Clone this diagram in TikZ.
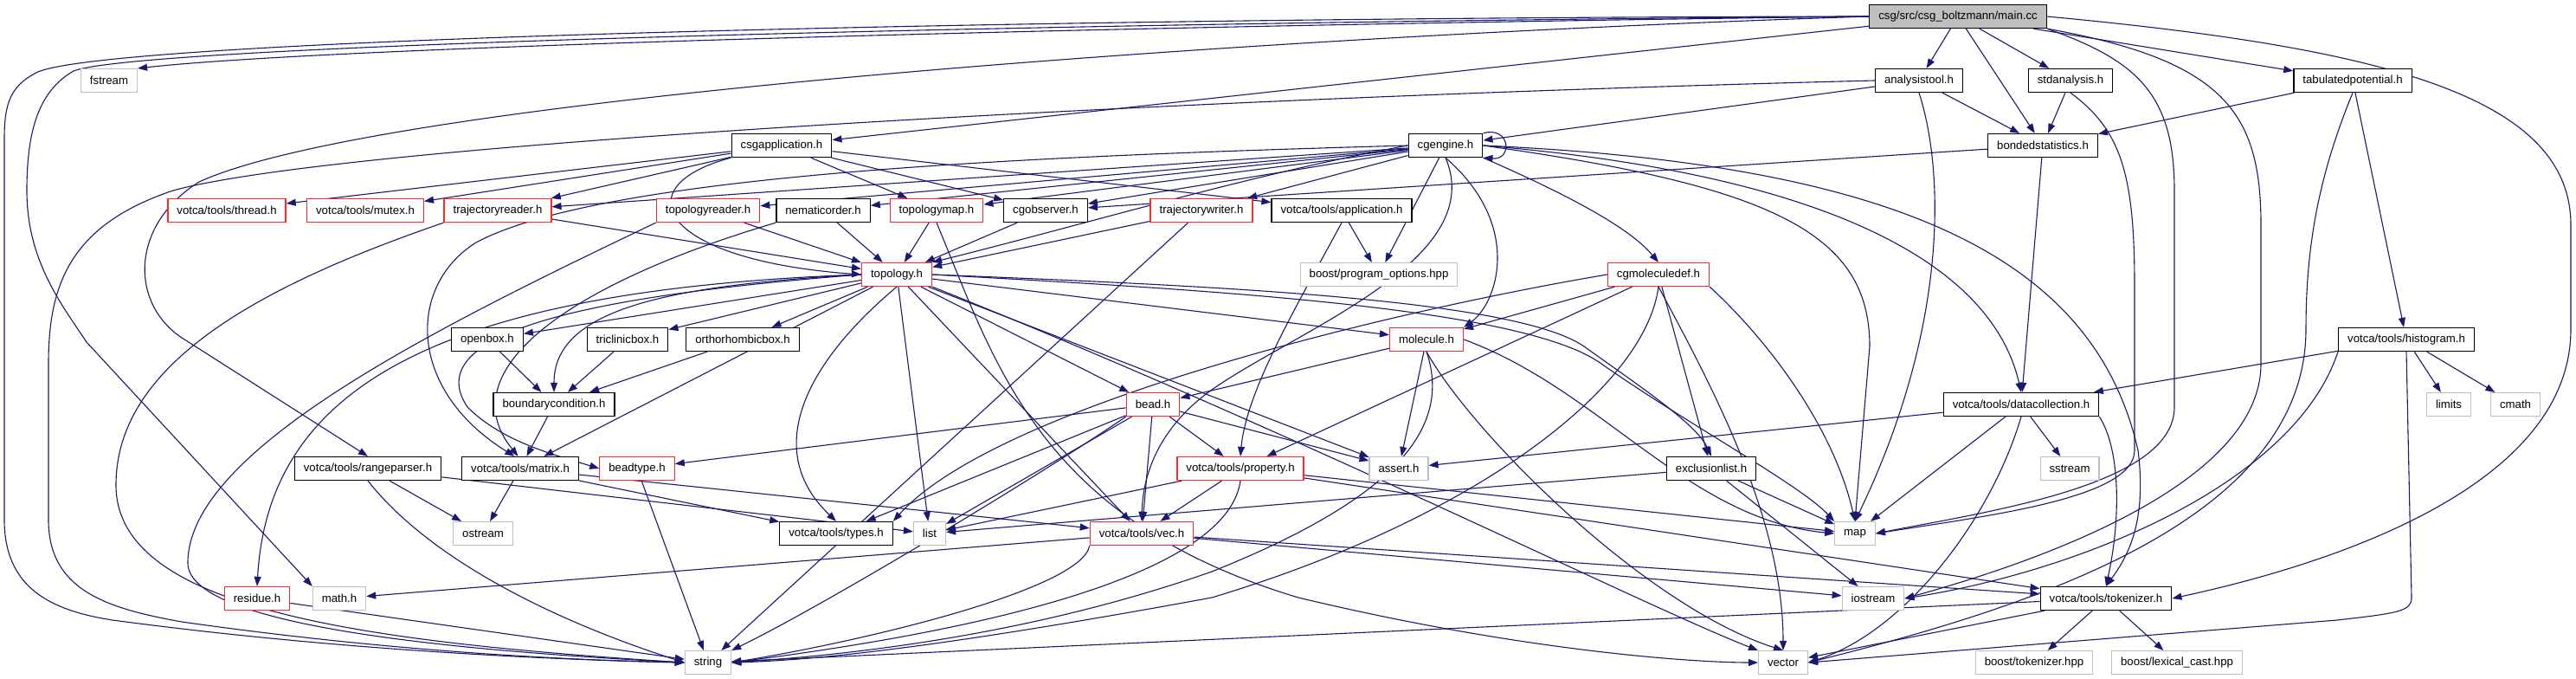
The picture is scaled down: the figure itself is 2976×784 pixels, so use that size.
\documentclass[tikz,border=0pt]{standalone}
\usepackage{fontspec}
\setmainfont{Liberation Sans}
\usetikzlibrary{arrows.meta}
\definecolor{edgecol}{RGB}{25,25,112}
\definecolor{extgray}{RGB}{191,191,191}
\definecolor{mainfill}{RGB}{191,191,191}
\definecolor{redb}{RGB}{255,40,40}
\pgfdeclarelayer{bg}
\pgfsetlayers{bg,main}
\newcommand{\nfont}{\fontsize{13.2pt}{15pt}\selectfont}
\tikzset{
  nb/.style={draw=black, fill=white, line width=1.3pt, inner xsep=10.5pt, inner ysep=0pt, minimum height=27pt, font=\nfont},
  nr/.style={nb, draw=redb},
  ng/.style={nb, draw=extgray, line width=1.1pt},
  nm/.style={nb, fill=mainfill},
  e/.style={draw=edgecol, line width=1.1pt, -{Triangle[length=11pt,width=8pt]}}
}
\begin{document}
\begin{tikzpicture}[x=1pt,y=-1pt]
\useasboundingbox (0,0) rectangle (2976,784);
% nodes
\node[nm] (main) at (2262,19) {csg/src/csg\_boltzmann/main.cc};
\node[ng] (fstream) at (126,93) {fstream};
\node[nb] (at) at (2217,93) {analysistool.h};
\node[nb] (sa) at (2392,93) {stdanalysis.h};
\node[nb] (tp) at (2718,93) {tabulatedpotential.h};
\node[nb] (ca) at (903,168) {csgapplication.h};
\node[nb] (ce) at (1670,168) {cgengine.h};
\node[nb] (bs) at (2360,168) {bondedstatistics.h};
\node[nr] (thread) at (262,243) {votca/tools/thread.h};
\node[nr] (mutex) at (422,243) {votca/tools/mutex.h};
\node[nr] (tr) at (575,243) {trajectoryreader.h};
\node[nr] (tpr) at (818,243) {topologyreader.h};
\node[nb] (nem) at (951,243) {nematicorder.h};
\node[nr] (tm) at (1082,243) {topologymap.h};
\node[nb] (co) at (1208,243) {cgobserver.h};
\node[nr] (tw) at (1388,243) {trajectorywriter.h};
\node[nb] (app) at (1550,243) {votca/tools/application.h};
\node[nr] (top) at (1036,317) {topology.h};
\node[ng] (bpo) at (1593,317) {boost/program\_options.hpp};
\node[nr] (cmd) at (1916,317) {cgmoleculedef.h};
\node[nb] (ob) at (563,392) {openbox.h};
\node[nb] (tc) at (725,392) {triclinicbox.h};
\node[nb] (oo) at (858,392) {orthorhombicbox.h};
\node[nr] (mol) at (1648,392) {molecule.h};
\node[nb] (hist) at (2780,392) {votca/tools/histogram.h};
\node[nb] (bc) at (640,467) {boundarycondition.h};
\node[nr] (bead) at (1332,467) {bead.h};
\node[nb] (dc) at (2335,467) {votca/tools/datacollection.h};
\node[ng] (limits) at (2829,467) {limits};
\node[ng] (cmath) at (2906,467) {cmath};
\node[nb] (rp) at (425,541) {votca/tools/rangeparser.h};
\node[nb] (mat) at (601,541) {votca/tools/matrix.h};
\node[nr] (bt) at (736,541) {beadtype.h};
\node[nr] (prop) at (1433,541) {votca/tools/property.h};
\node[ng] (assert) at (1616,541) {assert.h};
\node[nb] (excl) at (1977,541) {exclusionlist.h};
\node[ng] (sstream) at (2391,541) {sstream};
\node[ng] (ostream) at (558,616) {ostream};
\node[nb] (types) at (966,616) {votca/tools/types.h};
\node[ng] (list) at (1074,616) {list};
\node[nr] (vec) at (1319,616) {votca/tools/vec.h};
\node[ng] (map) at (2143,616) {map};
\node[nr] (res) at (297,691) {residue.h};
\node[ng] (math) at (392,691) {math.h};
\node[ng] (iostream) at (2164,691) {iostream};
\node[nb] (tok) at (2433,691) {votca/tools/tokenizer.h};
\node[ng] (string) at (818,765) {string};
\node[ng] (vector) at (2060,765) {vector};
\node[ng] (btok) at (2350,765) {boost/tokenizer.hpp};
\node[ng] (blex) at (2515,765) {boost/lexical\_cast.hpp};

\begin{pgfonlayer}{bg}
\fill[white] (0,0) rectangle (2976,784);
% straight edges
\foreach \a/\b in {main/ca, main/at, main/bs, main/sa, main/tp,
  at/ce, at/bs, sa/bs, tp/bs, tp/hist, bs/dc, bs/co,
  hist/dc, hist/limits, hist/cmath,
  dc/assert, dc/map, dc/sstream,
  tok/string, tok/vector, tok/btok, tok/blex,
  excl/list, excl/map, excl/iostream,
  ca/thread, ca/mutex, ca/tr, ca/tm, ca/co, ca/app,
  ce/tr, ce/tpr, ce/nem, ce/tm, ce/co, ce/tw, ce/bpo,
  top/ob, top/tc, top/oo, top/mat, top/list, top/vec, top/bead, top/assert, top/mol,
  mol/bead, mol/assert,
  cmd/mol, cmd/prop, cmd/excl,
  bead/bt, bead/types, bead/list, bead/vec, bead/prop, bead/assert,
  prop/list, prop/vec, prop/map, prop/tok,
  vec/math, vec/iostream, vec/tok,
  mat/ostream, mat/types, mat/vec,
  rp/ostream, rp/list,
  bc/mat, ob/bc, tc/bc, oo/bc,
  bt/string, res/string,
  app/bpo,
  tr/top, tpr/top, nem/top, tm/top, co/top, tw/top, tw/string}
  {\draw[e] (\a) -- (\b);}
% curved edges from main.cc
\draw[e] (main.west) .. controls (1400,28) and (400,52) .. (fstream.north east);
\draw[e] (main.west) .. controls (1200,20) and (100,45) .. (40,85) .. controls (12,100) and (5,120) .. (5,160) -- (5,600) .. controls (5,680) and (60,705) .. (130,716) .. controls (400,752) and (650,762) .. (string.west);
\draw[e] (main.west) .. controls (1200,26) and (160,52) .. (85,82) .. controls (45,105) and (31,150) .. (31,220) .. controls (31,300) and (70,350) .. (100,395) -- (math.north west);
\draw[e] (main.west) .. controls (1500,40) and (450,110) .. (230,210) .. controls (150,260) and (150,350) .. (210,390) -- (rp.north);
\draw[e] (main.south east) .. controls (2470,70) and (2512,110) .. (2512,220) -- (2512,470) .. controls (2512,560) and (2300,590) .. (map.east);
\draw[e] (main.south east) .. controls (2570,70) and (2612,130) .. (2612,260) -- (2612,420) .. controls (2612,560) and (2350,650) .. (iostream.east);
\draw[e] (main.east) .. controls (2750,55) and (2970,110) .. (2970,260) -- (2970,380) .. controls (2970,560) and (2700,650) .. (tok.east);
% analysistool, stdanalysis, tabulatedpotential
\draw[e] (at.west) .. controls (1400,112) and (400,165) .. (200,220) .. controls (80,260) and (56,330) .. (56,420) -- (56,600) .. controls (56,680) and (120,702) .. (210,718) .. controls (450,752) and (650,762) .. (string.west);
\draw[e] (at.south) .. controls (2247,200) and (2250,380) .. (map.north);
\draw[e] (sa.south) .. controls (2450,150) and (2466,200) .. (2466,330) -- (2466,520) .. controls (2466,575) and (2300,595) .. (map.east);
\draw[e] (tp.south) .. controls (2680,200) and (2664,280) .. (2664,380) .. controls (2664,600) and (2350,700) .. (vector.east);
% histogram, datacollection
\draw[e] (hist.south west) .. controls (2650,560) and (2400,660) .. (iostream.east);
\draw[e] (hist.south) -- (2786,690) .. controls (2786,706) and (2770,708) .. (2700,716) -- (vector.east);
\draw[e] (dc.south east) .. controls (2450,520) and (2450,600) .. (tok.north);
\draw[e] (dc.south) .. controls (2300,600) and (2200,730) .. (vector.east);
% csgapplication
\draw[e] (ca.south west) .. controls (720,215) and (760,300) .. (top.west);
% cgengine
\draw[e] (ce.north east) .. controls (1745,145) and (1748,185) .. (ce.south east);
\draw[e] (ce.west) .. controls (1450,200) and (1250,260) .. (top.north east);
\draw[e] (ce.south) .. controls (1760,260) and (1730,350) .. (mol.north east);
\draw[e] (ce.south east) .. controls (1800,220) and (1880,260) .. (cmd.north);
\draw[e] (ce.east) .. controls (2100,200) and (2300,300) .. (dc.north);
\draw[e] (ce.east) .. controls (2200,190) and (2420,300) .. (2470,520) .. controls (2480,600) and (2460,640) .. (tok.north);
\draw[e] (ce.east) .. controls (2050,215) and (2160,270) .. (2160,400) -- (map.north);
\draw[e] (ce.south) .. controls (1720,300) and (1500,380) .. (1400,450) .. controls (1330,500) and (1320,560) .. (vec.north);
\draw[e] (ce.west) .. controls (1200,180) and (700,200) .. (550,280) .. controls (470,330) and (470,450) .. (mat.115);
% nematicorder, topologyreader, trajectoryreader
\draw[e] (nem.south west) .. controls (650,330) and (520,430) .. (mat.100);
\draw[e] (tpr.south west) .. controls (500,380) and (217,520) .. (217,650) .. controls (217,720) and (500,750) .. (string.west);
\draw[e] (tr.south west) .. controls (300,330) and (134,420) .. (134,560) .. controls (134,700) and (400,740) .. (string.west);
% topology
\draw[e] (top.west) .. controls (760,330) and (640,360) .. (bc.north);
\draw[e] (top.west) .. controls (500,335) and (310,450) .. (res.north);
\draw[e] (top.west) .. controls (700,340) and (480,380) .. (540,470) .. controls (580,510) and (640,525) .. (bt.west);
\draw[e] (top.south) .. controls (930,420) and (880,520) .. (types.north);
\draw[e] (top.east) .. controls (1400,330) and (1750,345) .. (1830,400) .. controls (1900,450) and (1960,490) .. (excl.north);
\draw[e] (top.east) .. controls (1400,335) and (1760,355) .. (1850,420) .. controls (1950,490) and (2080,560) .. (map.north west);
\draw[e] (top.south east) .. controls (1500,500) and (1900,700) .. (vector.north west);
% topologymap, application
\draw[e] (tm.south) .. controls (1150,420) and (1200,600) .. (1500,690) .. controls (1750,750) and (1950,765) .. (vector.west);
\draw[e] (app.south) .. controls (1500,350) and (1440,450) .. (prop.north);
% molecule
\draw[e] (mol.south) .. controls (1680,500) and (1600,580) .. (1400,660) .. controls (1200,730) and (1000,755) .. (string.east);
\draw[e] (mol.south) .. controls (1700,500) and (1900,700) .. (vector.north);
\draw[e] (mol.east) .. controls (1850,450) and (1950,600) .. (map.west);
% cgmoleculedef
\draw[e] (cmd.west) .. controls (1600,360) and (1150,470) .. (types.north east);
\draw[e] (cmd.south) .. controls (1900,450) and (1700,600) .. (1400,690) .. controls (1100,745) and (950,762) .. (string.east);
\draw[e] (cmd.south) .. controls (1980,450) and (2060,600) .. (vector.north);
\draw[e] (cmd.south east) .. controls (2050,400) and (2120,500) .. (map.north);
% bead, property, vec, rangeparser
\draw[e] (bead.south west) .. controls (1200,550) and (950,700) .. (string.north east);
\draw[e] (prop.south) .. controls (1420,650) and (1200,720) .. (string.east);
\draw[e] (vec.south west) .. controls (1250,680) and (1000,740) .. (string.east);
\draw[e] (rp.south) .. controls (500,650) and (650,720) .. (string.west);
\end{pgfonlayer}
\end{tikzpicture}
\end{document}
